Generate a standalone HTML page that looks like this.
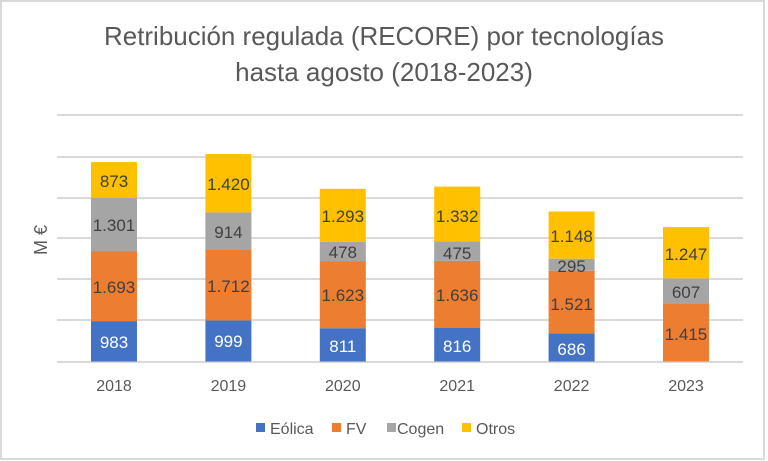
<!DOCTYPE html>
<html><head><meta charset="utf-8"><style>
html,body{margin:0;padding:0;background:#fff}
svg{display:block}
text{font-family:"Liberation Sans",sans-serif}
</style></head><body>
<svg width="768" height="461" viewBox="0 0 768 461" xmlns="http://www.w3.org/2000/svg">
<rect x="1" y="1" width="763" height="458" fill="#fff" stroke="#d9d9d9" stroke-width="2"/>
<text x="384" y="45" font-size="26" fill="#595959" text-anchor="middle" textLength="560" lengthAdjust="spacingAndGlyphs">Retribución regulada (RECORE) por tecnologías</text>
<text x="384" y="81" font-size="26" fill="#595959" text-anchor="middle">hasta agosto (2018-2023)</text>
<g stroke="#d9d9d9" stroke-width="2">
<line x1="57" x2="743" y1="115" y2="115"/>
<line x1="57" x2="743" y1="157" y2="157"/>
<line x1="57" x2="743" y1="198" y2="198"/>
<line x1="57" x2="743" y1="238" y2="238"/>
<line x1="57" x2="743" y1="279" y2="279"/>
<line x1="57" x2="743" y1="320" y2="320"/>
<line x1="57" x2="743" y1="362" y2="362"/>
</g>
<text transform="translate(47,240) rotate(-90)" font-size="18" fill="#595959" text-anchor="middle">M €</text>
<g font-size="17" text-anchor="middle">
<rect x="91" y="321.1" width="46" height="40.4" fill="#4472c4"/>
<rect x="91" y="251.5" width="46" height="69.6" fill="#ed7d31"/>
<rect x="91" y="198" width="46" height="53.5" fill="#a5a5a5"/>
<rect x="91" y="162.1" width="46" height="35.9" fill="#ffc000"/>
<text x="114" y="348" fill="#fff">983</text>
<text x="114" y="293" fill="#404040">1.693</text>
<text x="114" y="231" fill="#404040">1.301</text>
<text x="114" y="187" fill="#404040">873</text>
<rect x="205.4" y="320.4" width="46" height="41.1" fill="#4472c4"/>
<rect x="205.4" y="250" width="46" height="70.4" fill="#ed7d31"/>
<rect x="205.4" y="212.4" width="46" height="37.6" fill="#a5a5a5"/>
<rect x="205.4" y="154" width="46" height="58.4" fill="#ffc000"/>
<text x="228.4" y="347" fill="#fff">999</text>
<text x="228.4" y="292" fill="#404040">1.712</text>
<text x="228.4" y="238" fill="#404040">914</text>
<text x="228.4" y="190" fill="#404040">1.420</text>
<rect x="319.8" y="328.2" width="46" height="33.3" fill="#4472c4"/>
<rect x="319.8" y="261.5" width="46" height="66.7" fill="#ed7d31"/>
<rect x="319.8" y="241.9" width="46" height="19.6" fill="#a5a5a5"/>
<rect x="319.8" y="188.8" width="46" height="53.1" fill="#ffc000"/>
<text x="342.8" y="352" fill="#fff">811</text>
<text x="342.8" y="301" fill="#404040">1.623</text>
<text x="342.8" y="258" fill="#404040">478</text>
<text x="342.8" y="222" fill="#404040">1.293</text>
<rect x="434.2" y="328" width="46" height="33.5" fill="#4472c4"/>
<rect x="434.2" y="260.8" width="46" height="67.2" fill="#ed7d31"/>
<rect x="434.2" y="241.3" width="46" height="19.5" fill="#a5a5a5"/>
<rect x="434.2" y="186.6" width="46" height="54.7" fill="#ffc000"/>
<text x="457.2" y="352" fill="#fff">816</text>
<text x="457.2" y="301" fill="#404040">1.636</text>
<text x="457.2" y="259" fill="#404040">475</text>
<text x="457.2" y="222" fill="#404040">1.332</text>
<rect x="548.6" y="333.3" width="46" height="28.2" fill="#4472c4"/>
<rect x="548.6" y="270.8" width="46" height="62.5" fill="#ed7d31"/>
<rect x="548.6" y="258.7" width="46" height="12.1" fill="#a5a5a5"/>
<rect x="548.6" y="211.5" width="46" height="47.2" fill="#ffc000"/>
<text x="571.6" y="355" fill="#fff">686</text>
<text x="571.6" y="310" fill="#404040">1.521</text>
<text x="571.6" y="272" fill="#404040">295</text>
<text x="571.6" y="242" fill="#404040">1.148</text>
<rect x="663" y="303.3" width="46" height="58.2" fill="#ed7d31"/>
<rect x="663" y="278.4" width="46" height="24.9" fill="#a5a5a5"/>
<rect x="663" y="227.1" width="46" height="51.3" fill="#ffc000"/>
<text x="686" y="340" fill="#404040">1.415</text>
<text x="686" y="298" fill="#404040">607</text>
<text x="686" y="260" fill="#404040">1.247</text>
</g>
<g font-size="16" fill="#595959" text-anchor="middle">
<text x="114" y="391">2018</text>
<text x="228.4" y="391">2019</text>
<text x="342.8" y="391">2020</text>
<text x="457.2" y="391">2021</text>
<text x="571.6" y="391">2022</text>
<text x="686" y="391">2023</text>
</g>
<g font-size="16" fill="#595959">
<rect x="256" y="423" width="9" height="9" fill="#4472c4"/>
<text x="270" y="434">Eólica</text>
<rect x="332" y="423" width="9" height="9" fill="#ed7d31"/>
<text x="346" y="434">FV</text>
<rect x="387" y="423" width="9" height="9" fill="#a5a5a5"/>
<text x="397" y="434">Cogen</text>
<rect x="462" y="423" width="9" height="9" fill="#ffc000"/>
<text x="476" y="434">Otros</text>
</g>
</svg>
</body></html>
